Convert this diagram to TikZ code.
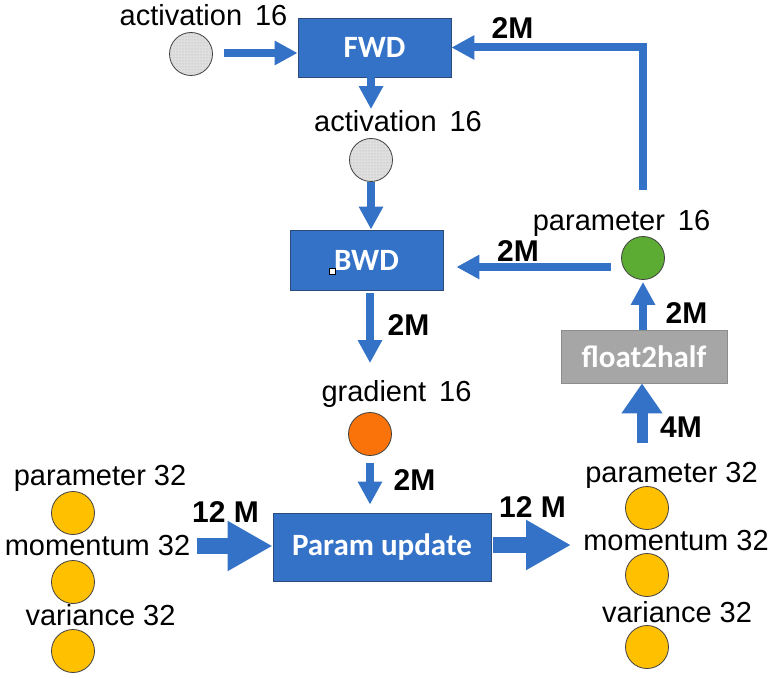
\documentclass[tikz,border=0pt]{standalone}
\usepackage{fontspec}
\setmainfont{Liberation Sans}
\newfontfamily\boxfont{Carlito}
\usetikzlibrary{arrows.meta,patterns}
\definecolor{myblue}{RGB}{52,114,200}
\definecolor{boxborder}{RGB}{45,75,120}
\definecolor{fgray}{RGB}{166,166,166}
\definecolor{fgrayb}{RGB}{140,140,140}
\definecolor{myyellow}{RGB}{255,192,0}
\definecolor{myorange}{RGB}{250,115,10}
\definecolor{mygreen}{RGB}{92,172,52}
\tikzset{
  bluebox/.style={rectangle, fill=myblue, draw=boxborder, line width=0.8pt, text=white, font=\boxfont\bfseries\fontsize{31}{36}\selectfont, inner sep=0},
  graybox/.style={rectangle, fill=fgray, draw=fgrayb, line width=0.8pt, text=white, font=\boxfont\bfseries\fontsize{31}{36}\selectfont, inner sep=0},
  dotcirc/.style={circle, draw=black!75, line width=0.8pt, minimum size=43pt, inner sep=0, preaction={fill=gray!25}, pattern=dots, pattern color=gray!65},
  colcirc/.style={circle, draw=black!75, line width=0.8pt, minimum size=43pt, inner sep=0, fill=#1},
  lbl/.style={font=\fontsize{29}{33}\selectfont, anchor=base, inner sep=0},
  bl/.style={font=\fontsize{30}{34}\selectfont\bfseries, anchor=base, inner sep=0},
  thinarr/.style={draw=myblue, line width=8pt, -{Triangle[width=23pt,length=23pt]}},
  midarr/.style={draw=myblue, line width=11pt, -{Triangle[width=39pt,length=30pt]}},
  bigarr/.style={draw=myblue, line width=16pt, -{Triangle[width=47pt,length=45pt]}}
}
\begin{document}
\begin{tikzpicture}[x=1pt,y=-1pt]
\useasboundingbox[fill=white] (0,0) rectangle (776,679);

% boxes
\node[bluebox, minimum width=153pt, minimum height=59pt] (fwd) at (374.5,47.5) {FWD};
\node[bluebox, minimum width=153pt, minimum height=60pt] (bwd) at (366.5,260) {BWD};
\node[bluebox, minimum width=218pt, minimum height=68pt] (pu) at (382,547) {Param update};
\node[graybox, minimum width=166pt, minimum height=53pt] (f2h) at (644,356.5) {float2half};
\node[draw=black, fill=white, line width=0.6pt, minimum size=6pt, inner sep=0] (mark) at (332,271) {};

% circles
\node[dotcirc] (act1) at (191,54) {};
\node[dotcirc] (act2) at (371,160) {};
\node[colcirc=myorange] (grad) at (370,434) {};
\node[colcirc=mygreen] (p16) at (643,258) {};
\node[colcirc=myyellow] (lp) at (73,513) {};
\node[colcirc=myyellow] (lm) at (73,582) {};
\node[colcirc=myyellow] (lv) at (73,651) {};
\node[colcirc=myyellow] (rp) at (647,508) {};
\node[colcirc=myyellow] (rm) at (647,575) {};
\node[colcirc=myyellow] (rv) at (647,647) {};

% labels
\node[lbl] (lact1) at (203.5,26) {activation\, 16};
\node[lbl] (lact2) at (398,132) {activation\, 16};
\node[lbl] (lp16) at (621.5,230) {parameter\, 16};
\node[lbl] (lgrad) at (396.5,401.5) {gradient\, 16};
\node[lbl] (llp) at (100,485) {parameter 32};
\node[lbl] (llm) at (97.5,555) {momentum 32};
\node[lbl] (llv) at (100.5,625) {variance 32};
\node[lbl] (lrp) at (671.5,482) {parameter 32};
\node[lbl] (lrm) at (676,550) {momentum 32};
\node[lbl] (lrv) at (677,622) {variance 32};

% bold labels
\node[bl] (m1) at (512.5,39) {2M};
\node[bl] (m2) at (518,261) {2M};
\node[bl] (m3) at (408.5,335) {2M};
\node[bl] (m4) at (414.5,490) {2M};
\node[bl] (m5) at (225.5,522) {12 M};
\node[bl] (m6) at (532.5,517) {12 M};
\node[bl] (m7) at (686.5,323) {2M};
\node[bl] (m8) at (681,437) {4M};

% free ends
\coordinate (lstart) at (197,546);
\coordinate (rtip) at (571,545);
\coordinate (fstart) at (642,443);

% connectors
\draw[thinarr, shorten <=11pt] ([yshift=1pt]act1.east) -- ([yshift=1pt]act1.east -| fwd.west);
\draw[thinarr, shorten >=29pt] (fwd.south -| act2) -- (act2.north);
\draw[thinarr] (act2.south) -- (act2 |- bwd.north);
\draw[thinarr, shorten <=3pt, shorten >=49pt] (bwd.south -| grad) -- (grad.north);
\draw[thinarr, shorten <=7pt, shorten >=8pt] (grad.south) -- (grad |- pu.north);
\draw[thinarr, shorten <=10pt, shorten >=13pt] ([yshift=-9pt]p16.west) -- ([yshift=-9pt]p16.west -| bwd.east);
\draw[thinarr] ([yshift=46pt]p16.north) |- (fwd.east);
\draw[thinarr, shorten >=2pt] (f2h.north -| p16) -- (p16.south);
\draw[midarr] (fstart) -- (fstart |- f2h.south);
\draw[bigarr] (lstart) -- (lstart -| pu.west);
\draw[bigarr, shorten <=2pt] (pu.east |- rtip) -- (rtip);
\end{tikzpicture}
\end{document}
